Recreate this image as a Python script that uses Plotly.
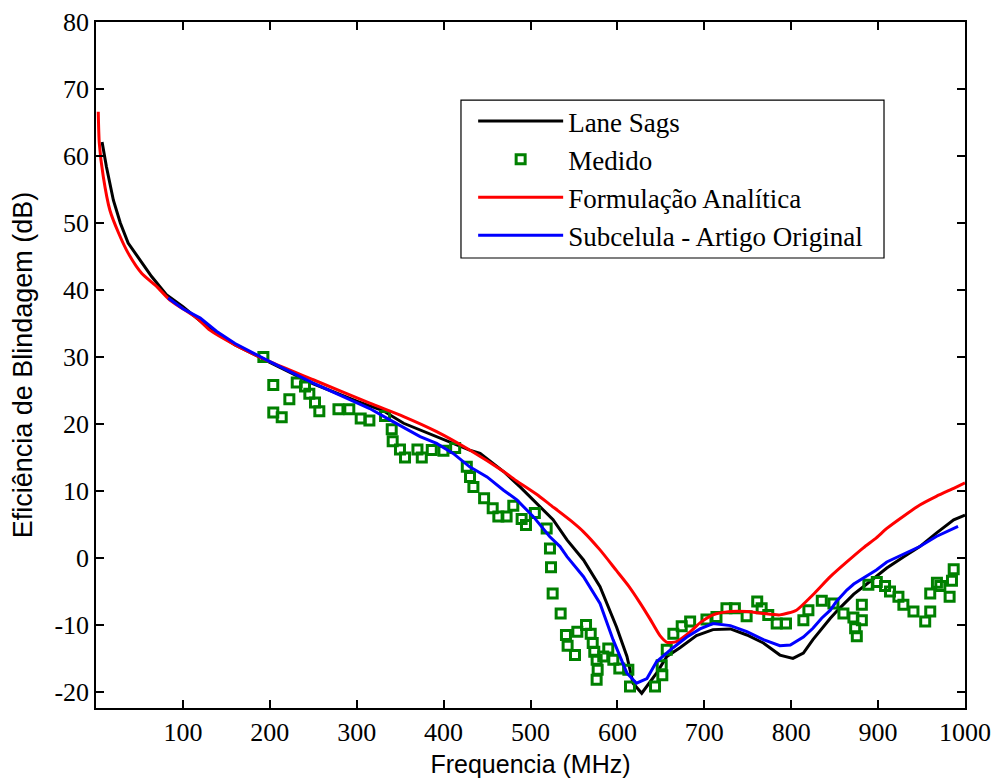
import plotly.graph_objects as go

# ---- data ----
lane_x = [7, 12, 20, 28, 37, 51, 64, 81, 100, 130, 160, 200, 250, 300, 330, 354, 392, 430, 442,
          469, 488, 507, 526, 542, 561, 580, 599, 611, 618, 628, 637, 645, 657, 672, 691, 710,
          730, 749, 768, 787, 802, 814, 825, 835, 845, 855, 864, 872, 883, 898, 910, 930, 948,
          967, 987, 1000]
lane_y = [62.1, 58.4, 53.4, 50.0, 47.0, 44.5, 42.0, 39.3, 37.5, 34.3, 31.8, 29.2, 26.0, 23.4,
          22.0, 20.1, 18.1, 16.1, 15.6, 12.9, 10.6, 8.2, 5.7, 2.7, -0.3, -4.3, -10.3, -14.7,
          -18.7, -20.2, -18.7, -17.2, -14.7, -13.4, -11.6, -10.7, -10.6, -11.5, -12.7, -14.5,
          -15.0, -14.2, -12.2, -10.6, -9.0, -7.6, -6.4, -5.4, -4.3, -2.8, -1.5, 0.2, 1.7, 3.7,
          5.7, 6.4]

med_x = [192.6, 204, 204, 213.7, 222.5, 231, 240.5, 245.5, 252, 257, 279, 291.5, 304.6, 314.6,
         332.6, 340.3, 341.4, 349.8, 355.6, 369.9, 374.9, 386.4, 399.8, 413.3, 426.7, 430.4,
         434.3, 446.6, 456.5, 463, 472.5, 480.2, 489.8, 494.8, 505, 518.6, 522.4, 523.6, 525.5,
         534.7, 540.8, 542.7, 551.2, 553.9, 563.9, 569.3, 571.6, 573.4, 576.1, 577.3, 576.1,
         583.7, 589.5, 595.3, 602.2, 612.6, 614.5, 643.3, 651.7, 651, 656.8, 664.4, 674, 683.7,
         702.5, 714, 725.5, 735.2, 748.7, 760.9, 766, 773.6, 783.3, 794, 814, 819.8, 835.2,
         848.6, 860.1, 871.6, 881.3, 881.3, 873.6, 875.5, 888.8, 898.5, 908, 913.7, 923.4,
         929.1, 940.7, 954.2, 960, 960, 967.7, 971.6, 982.3, 985, 987]
med_y = [30.0, 25.8, 21.7, 21.0, 23.7, 26.2, 25.6, 24.5, 23.2, 21.9, 22.2, 22.2, 20.8, 20.5,
         21.2, 19.2, 17.4, 16.2, 15.0, 16.2, 15.0, 16.1, 16.0, 16.4, 13.6, 12.1, 10.6, 8.9, 7.4,
         6.2, 6.2, 7.8, 5.8, 4.9, 6.7, 4.4, 1.4, -1.4, -5.3, -8.3, -11.5, -13.1, -14.5, -11.0,
         -10.0, -11.3, -12.7, -14.0, -15.2, -16.7, -18.2, -14.7, -13.5, -15.2, -16.5, -16.7,
         -19.2, -19.2, -17.5, -16.0, -13.7, -11.3, -10.2, -9.5, -9.2, -8.8, -7.5, -7.5, -8.7,
         -6.5, -7.5, -8.5, -9.8, -9.8, -9.3, -7.8, -6.4, -6.8, -8.3, -8.9, -7.0, -9.3, -10.5,
         -11.7, -4.0, -3.6, -4.2, -5.0, -5.8, -7.0, -8.0, -9.5, -8.0, -5.3, -3.7, -4.2, -5.8,
         -3.4, -1.7]

form_x = [2.6, 3.8, 8.4, 16, 26, 37, 52.5, 70, 85, 116, 131, 160, 200, 250, 315, 354, 392, 430,
          469, 484, 507, 522, 546, 561, 580, 599, 613, 626, 637.5, 649, 657, 668, 684, 695, 710,
          730, 749, 768, 787, 806, 825, 845, 864, 883, 898, 910, 930, 948, 967, 987, 1000]
form_y = [66.6, 61.9, 56.9, 51.9, 48.5, 45.5, 42.5, 40.5, 38.5, 35.8, 34.0, 31.8, 29.3, 26.6,
          23.1, 21.1, 18.85, 16.1, 12.9, 11.5, 9.5, 8.0, 5.6, 3.9, 1.2, -1.9, -4.2, -6.7, -9.1,
          -11.6, -12.6, -12.5, -11.0, -9.7, -8.5, -8.0, -8.0, -8.3, -8.5, -7.8, -5.5, -2.8, -0.6,
          1.5, 3.0, 4.4, 6.3, 7.9, 9.2, 10.4, 11.2]

sub_x = [83, 100, 120, 139, 160, 200, 250, 300, 315, 334, 354, 373, 392, 411, 430, 450, 469, 484,
         503, 522, 534, 542, 561, 580, 595, 611, 622, 634, 645, 664, 680, 695, 710, 730, 749,
         768, 787, 799, 814, 825, 835, 845, 852, 864, 872, 883, 898, 910, 930, 948, 967, 992]
sub_y = [38.8, 37.2, 35.8, 33.8, 32.0, 29.3, 26.1, 23.2, 22.3, 20.9, 19.4, 18.1, 17.1, 15.6,
         13.6, 12.1, 10.1, 8.7, 6.2, 3.2, 1.7, 0.2, -2.8, -6.8, -12.2, -17.2, -18.7, -18.0,
         -15.5, -13.4, -11.8, -10.6, -9.8, -10.1, -11.0, -12.2, -13.1, -13.0, -11.8, -10.5,
         -9.0, -7.8, -6.5, -4.8, -3.9, -3.0, -1.8, -0.6, 0.6, 1.7, 3.2, 4.7]

x_ticks = [100, 200, 300, 400, 500, 600, 700, 800, 900, 1000]
y_ticks = [-20, -10, 0, 10, 20, 30, 40, 50, 60, 70, 80]
y_tick_text = [str(v).replace("\u2212", "-") for v in y_ticks]

serif = "Liberation Serif, Times New Roman, serif"
sans = "Liberation Sans, Arial, sans-serif"

fig = go.Figure()
fig.add_trace(go.Scatter(x=lane_x, y=lane_y, mode="lines", name="Lane Sags",
                         line=dict(color="black", width=3)))
fig.add_trace(go.Scatter(x=med_x, y=med_y, mode="markers", name="Medido",
                         marker=dict(symbol="square-open", size=9, color="#008000",
                                     line=dict(width=3, color="#008000"))))
fig.add_trace(go.Scatter(x=form_x, y=form_y, mode="lines", name="Formulação Analítica",
                         line=dict(color="#ff0000", width=3, shape="spline", smoothing=0.6)))
fig.add_trace(go.Scatter(x=sub_x, y=sub_y, mode="lines", name="Subcelula - Artigo Original",
                         line=dict(color="#0000ff", width=3)))

axis_common = dict(showline=True, linecolor="black", linewidth=1.5, mirror="ticks",
                   ticks="inside", ticklen=8, tickwidth=1.5, tickcolor="black",
                   showgrid=False, zeroline=False, automargin=False,
                   tickfont=dict(family=serif, size=26, color="black"))

fig.update_xaxes(range=[0, 1000], tickvals=x_ticks, ticktext=[str(v) for v in x_ticks],
                 title=dict(text="Frequencia (MHz)", font=dict(family=sans, size=25, color="black"),
                            standoff=14),
                 **axis_common)
fig.update_yaxes(range=[-22.4, 80], tickvals=y_ticks, ticktext=y_tick_text,
                 title=dict(text="Eficiência de Blindagem (dB)",
                            font=dict(family=sans, size=27, color="black"), standoff=14),
                 **axis_common)

fig.update_layout(
    width=994, height=778,
    margin=dict(l=96, r=29, t=22, b=70),
    paper_bgcolor="white", plot_bgcolor="white",
    showlegend=True,
    legend=dict(x=0.434, y=0.8907, xanchor="left", yanchor="top",
                bgcolor="rgba(0,0,0,0)", borderwidth=0,
                font=dict(family=serif, size=27, color="black"),
                itemwidth=85),
    shapes=[dict(type="rect", xref="paper", yref="paper",
                 x0=0.42, x1=0.9068, y0=0.656, y1=0.886,
                 line=dict(color="black", width=1.2), fillcolor="white", layer="above")],
)

fig.write_html("out.html")
